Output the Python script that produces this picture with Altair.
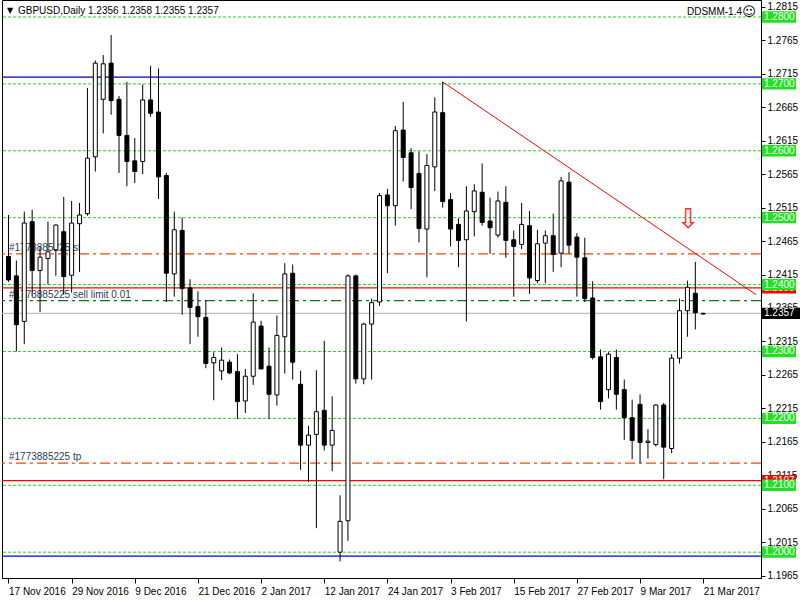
import altair as alt
import pandas as pd

# ---------------- data ----------------
date_labels = ["17 Nov 2016", "29 Nov 2016", "9 Dec 2016", "21 Dec 2016", "2 Jan 2017",
               "12 Jan 2017", "24 Jan 2017", "3 Feb 2017", "15 Feb 2017", "27 Feb 2017",
               "9 Mar 2017", "21 Mar 2017"]
label_bars = [0, 8, 16, 24, 32, 40, 48, 56, 64, 72, 80, 88]

opens = [1.2442, 1.2413, 1.2345, 1.2494, 1.2421, 1.2439, 1.2452, 1.2479, 1.2414, 1.2491,
         1.2506, 1.2591, 1.2677, 1.2731, 1.2677, 1.2623, 1.2585, 1.2584, 1.2676, 1.2658,
         1.2563, 1.2416, 1.2481, 1.2395, 1.2367, 1.2351, 1.2283, 1.2271, 1.2284, 1.2270,
         1.2226, 1.2263, 1.2338, 1.2278, 1.2235, 1.2322, 1.2417, 1.2251, 1.2160, 1.2176,
         1.2212, 1.2160, 1.2000, 1.2047, 1.2413, 1.2259, 1.2341, 1.2374, 1.2534, 1.2518,
         1.2631, 1.2597, 1.2566, 1.2483, 1.2576, 1.2657, 1.2527, 1.2490, 1.2467, 1.2509,
         1.2538, 1.2495, 1.2474, 1.2523, 1.2467, 1.2460, 1.2488, 1.2406, 1.2462, 1.2473,
         1.2447, 1.2553, 1.2471, 1.2440, 1.2380, 1.2292, 1.2243, 1.2291, 1.2243, 1.2201,
         1.2221, 1.2164, 1.2161, 1.2220, 1.2155, 1.2290, 1.2361, 1.2387, 1.2356]
highs = [1.2504, 1.2436, 1.2509, 1.2512, 1.2457, 1.2494, 1.2490, 1.2531, 1.2525, 1.2522,
         1.2694, 1.2735, 1.2743, 1.2773, 1.2682, 1.2703, 1.2619, 1.2699, 1.2727, 1.2723,
         1.2567, 1.2509, 1.2500, 1.2408, 1.2390, 1.2377, 1.2299, 1.2306, 1.2288, 1.2296,
         1.2274, 1.2387, 1.2346, 1.2306, 1.2354, 1.2432, 1.2430, 1.2271, 1.2189, 1.2272,
         1.2316, 1.2233, 1.2085, 1.2415, 1.2415, 1.2343, 1.2379, 1.2537, 1.2543, 1.2637,
         1.2673, 1.2604, 1.2599, 1.2595, 1.2680, 1.2703, 1.2537, 1.2499, 1.2547, 1.2550,
         1.2581, 1.2530, 1.2539, 1.2547, 1.2481, 1.2522, 1.2510, 1.2482, 1.2481, 1.2506,
         1.2561, 1.2568, 1.2477, 1.2470, 1.2405, 1.2303, 1.2299, 1.2303, 1.2258, 1.2228,
         1.2236, 1.2184, 1.2221, 1.2223, 1.2296, 1.2379, 1.2406, 1.2434, 1.2358]
lows = [1.2404, 1.2300, 1.2311, 1.2383, 1.2359, 1.2400, 1.2413, 1.2385, 1.2388, 1.2419,
        1.2503, 1.2569, 1.2626, 1.2654, 1.2567, 1.2547, 1.2552, 1.2565, 1.2651, 1.2528,
        1.2374, 1.2382, 1.2355, 1.2311, 1.2322, 1.2275, 1.2227, 1.2257, 1.2266, 1.2199,
        1.2208, 1.2250, 1.2273, 1.2199, 1.2219, 1.2267, 1.2258, 1.2123, 1.2105, 1.2036,
        1.2152, 1.2121, 1.1986, 1.2017, 1.2252, 1.2251, 1.2258, 1.2368, 1.2417, 1.2488,
        1.2554, 1.2513, 1.2463, 1.2411, 1.2540, 1.2515, 1.2457, 1.2426, 1.2345, 1.2472,
        1.2488, 1.2446, 1.2470, 1.2440, 1.2382, 1.2453, 1.2386, 1.2402, 1.2402, 1.2419,
        1.2426, 1.2446, 1.2382, 1.2374, 1.2288, 1.2213, 1.2230, 1.2213, 1.2168, 1.2139,
        1.2133, 1.2140, 1.2158, 1.2109, 1.2148, 1.2282, 1.2322, 1.2333, 1.2355]
closes = [1.2407, 1.2340, 1.2492, 1.2421, 1.2441, 1.2449, 1.2489, 1.2412, 1.2492, 1.2504,
          1.2589, 1.2731, 1.2730, 1.2675, 1.2623, 1.2584, 1.2569, 1.2676, 1.2656, 1.2561,
          1.2417, 1.2482, 1.2394, 1.2366, 1.2352, 1.2282, 1.2291, 1.2287, 1.2268, 1.2225,
          1.2263, 1.2344, 1.2274, 1.2236, 1.2324, 1.2416, 1.2284, 1.2160, 1.2175, 1.2210,
          1.2160, 1.2182, 1.2046, 1.2413, 1.2259, 1.2341, 1.2373, 1.2533, 1.2518, 1.2630,
          1.2590, 1.2545, 1.2484, 1.2578, 1.2658, 1.2524, 1.2483, 1.2466, 1.2510, 1.2540,
          1.2493, 1.2485, 1.2525, 1.2466, 1.2457, 1.2490, 1.2410, 1.2461, 1.2473, 1.2445,
          1.2555, 1.2459, 1.2441, 1.2379, 1.2291, 1.2225, 1.2296, 1.2236, 1.2201, 1.2167,
          1.2164, 1.2166, 1.2220, 1.2157, 1.2290, 1.2361, 1.2396, 1.2358, 1.2357]

y_ticks = [1.1965, 1.2015, 1.2065, 1.2115, 1.2165, 1.2215, 1.2265, 1.2315, 1.2365,
           1.2415, 1.2465, 1.2515, 1.2565, 1.2615, 1.2665, 1.2715, 1.2765, 1.2815]
round_levels = [1.2000, 1.2100, 1.2200, 1.2300, 1.2400, 1.2500, 1.2600, 1.2700, 1.2800]
round_labels = ["1.2000", "1.2100", "1.2200", "1.2300", "1.2400", "1.2500", "1.2600", "1.2700", "1.2800"]
blue_levels = [1.2710, 1.1994]
red_levels = [1.2395, 1.2107]
red_labels = ["1.2395", "1.2107"]
sl_level = 1.2446
tp_level = 1.2133
limit_level = 1.2376
bid_level = 1.2357
bid_label = "1.2357"
trend_x = [55, 94.69]
trend_y = [1.2703, 1.2385]

# ---------------- chart ----------------
FONT = "Liberation Sans, Arial"
FS = 10
W, H = 759, 578
xs = alt.Scale(domain=[-0.1875, 94.6875], nice=False, zero=False)
ys = alt.Scale(domain=[1.19614, 1.28254], nice=False, zero=False)

label_expr = "[" + ",".join("'%s'" % d for d in date_labels) + "][round(datum.value/8)]"
xax = alt.Axis(values=label_bars, labelExpr=label_expr, labelAlign="left", labelBaseline="top",
               labelPadding=3, labelOffset=0, tickSize=5, grid=False, title=None,
               labelFont=FONT, labelFontSize=FS, labelColor="black", domainColor="black",
               tickColor="black", labelOverlap=False, labelFlush=False, labelBound=False)
yax = alt.Axis(orient="right", values=y_ticks, format=".4f", labelAlign="left",
               labelBaseline="middle", labelPadding=2, tickSize=4, grid=False, title=None,
               labelFont=FONT, labelFontSize=FS, labelColor="black", domainColor="black",
               tickColor="black", labelOverlap=False, labelFlush=False, labelBound=False)


def X(f):
    return alt.X(f, scale=xs, axis=xax)


def Y(f):
    return alt.Y(f, scale=ys, axis=yax)


candles = pd.DataFrame({"i": list(range(len(opens))), "o": opens, "h": highs, "l": lows, "c": closes})


def hlines(levels, color, dash=None, width=1.0):
    kw = dict(color=color, strokeWidth=width)
    if dash:
        kw["strokeDash"] = dash
    return alt.Chart(pd.DataFrame({"p": levels})).mark_rule(**kw).encode(y=Y("p:Q"))


green = hlines(round_levels, "#19dd19", [3, 2])
blue = alt.Chart(pd.DataFrame({"p": blue_levels, "col": ["#0000b0", "#0000ff"]})).mark_rule(
    strokeWidth=1.3).encode(y=Y("p:Q"), color=alt.Color("col:N", scale=None))
red = hlines(red_levels, "#ff0000", None, 1.3)
orange = hlines([sl_level, tp_level], "#ff4500", [10, 4, 3, 4], 1.2)
dgreen = hlines([limit_level], "#0f7a0f", [10, 4, 3, 4], 1.2)
bid = hlines([bid_level], "#c0c0c0", None, 1.2)

trend = alt.Chart(pd.DataFrame({"i": trend_x, "p": trend_y})).mark_line(
    color="#ff0000", strokeWidth=1, clip=True).encode(x=X("i:Q"), y=Y("p:Q"))

order_txt = alt.Chart(pd.DataFrame({"t": ["#1773885225 sl", "#1773885225 sell limit 0.01", "#1773885225 tp"],
                                    "p": [sl_level, limit_level, tp_level]})).mark_text(
    align="left", baseline="bottom", dy=-1, font=FONT, fontSize=FS, color="#2c3c58").encode(
    x=alt.value(7), y=Y("p:Q"), text="t:N")

wicks = alt.Chart(candles).mark_rule(color="black", strokeWidth=1).encode(
    x=X("i:Q"), y=Y("l:Q"), y2="h:Q")
bodies = alt.Chart(candles).mark_bar(width=4, stroke="black", strokeWidth=1).encode(
    x=X("i:Q"), y=Y("o:Q"), y2="c:Q",
    fill=alt.condition("datum.c >= datum.o", alt.value("white"), alt.value("black")))

arrow = alt.Chart(pd.DataFrame({"i": [86], "p": [1.2496]})).mark_text(
    text="⇩", fontSize=27, color="#ff2a2a", font="DejaVu Sans", dx=1).encode(x=X("i:Q"), y=Y("p:Q"))

one = pd.DataFrame({"a": [0]})
head_tri = alt.Chart(one).mark_text(text="▼", fontSize=8, color="black", font="DejaVu Sans").encode(
    x=alt.value(8), y=alt.value(11))
head = alt.Chart(one).mark_text(text="GBPUSD,Daily  1.2356 1.2358 1.2355 1.2357", align="left",
                                baseline="middle", font=FONT, fontSize=FS, color="black").encode(
    x=alt.value(16), y=alt.value(11))
ind = alt.Chart(one).mark_text(text="DDSMM-1.4", align="right", baseline="middle", font=FONT,
                               fontSize=FS, color="black").encode(x=alt.value(740), y=alt.value(12))
smile = alt.Chart(one).mark_text(text="☺", align="center", baseline="middle", font="DejaVu Sans",
                                 fontSize=13, color="black").encode(x=alt.value(747), y=alt.value(12))


def price_boxes(levels, labels, color, x2=794, shift=0.0):
    df = pd.DataFrame({"p": levels, "t": labels})
    base = alt.Chart(df).transform_calculate(
        pc="datum.p + %f" % shift, lo="datum.p + %f - 0.00085" % shift, hi="datum.p + %f + 0.00085" % shift)
    rect = base.mark_rect(color=color).encode(
        x=alt.value(760), x2=alt.value(x2), y=Y("lo:Q"), y2="hi:Q")
    txt = base.mark_text(align="left", baseline="middle", font=FONT, fontSize=FS, color="white").encode(
        x=alt.value(762), y=Y("pc:Q"), text="t:N")
    return rect + txt


red_boxes = price_boxes(red_levels, red_labels, "#ff0000")
green_boxes = price_boxes(round_levels, round_labels, "#22e022")
bid_box = price_boxes([bid_level], [bid_label], "#000000", x2=800)

chart = alt.layer(
    green, blue, red, orange, dgreen, bid, trend, order_txt, wicks, bodies, arrow,
    head_tri, head, ind, smile, red_boxes, green_boxes, bid_box
).properties(
    width=W, height=H, padding={"left": 2, "top": 0, "right": 39, "bottom": 22},
    autosize=alt.AutoSizeParams(type="none"), background="white"
).configure_view(stroke="black", strokeWidth=1)

chart.save("out.html", embed_options={"renderer": "svg", "actions": False})
